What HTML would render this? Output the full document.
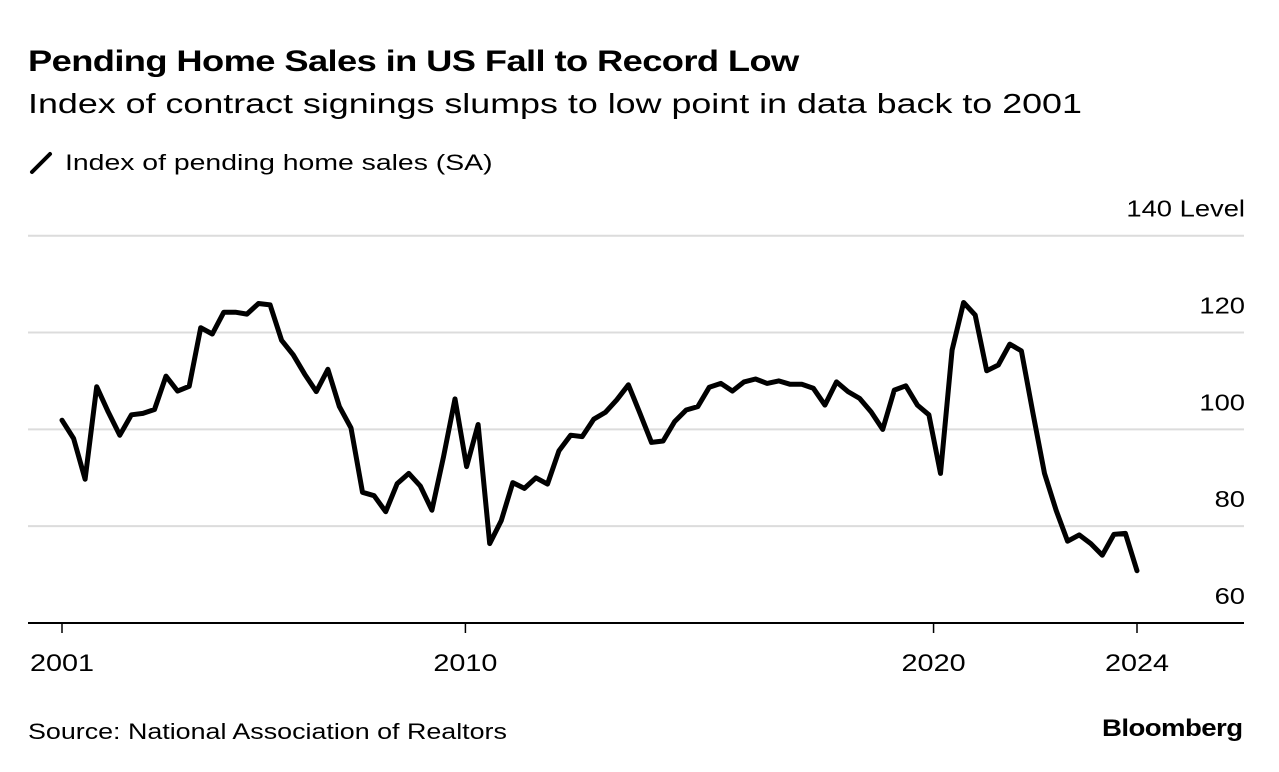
<!DOCTYPE html>
<html><head><meta charset="utf-8"><style>
body{margin:0;background:#fff;width:1279px;height:772px;overflow:hidden;font-family:"Liberation Sans",sans-serif;color:#000}
.t{position:absolute;white-space:nowrap;transform-origin:0 0}
</style></head><body>
<div class="t" style="left:28px;top:45px;font-size:30px;font-weight:bold;letter-spacing:-0.5px;transform:scaleX(1.21)">Pending Home Sales in US Fall to Record Low</div>
<div class="t" style="left:28px;top:88px;font-size:28px;transform:scaleX(1.28)">Index of contract signings slumps to low point in data back to 2001</div>
<svg width="26" height="26" style="position:absolute;left:28px;top:150px"><line x1="4" y1="22" x2="22" y2="4" stroke="#000" stroke-width="4" stroke-linecap="round"/></svg>
<div class="t" style="left:65px;top:150px;font-size:22px;transform:scaleX(1.29)">Index of pending home sales (SA)</div>
<svg id="chart" width="1279" height="772" style="position:absolute;left:0;top:0"></svg>
<div class="t" style="left:28px;top:719px;font-size:22px;transform:scaleX(1.22)">Source: National Association of Realtors</div>
<div class="t" style="left:1102px;top:715px;font-size:24px;font-weight:bold;letter-spacing:-0.5px;transform:scaleX(1.15)">Bloomberg</div>
<script>
const values=[101.9,98.1,89.7,108.8,103.6,98.8,103,103.3,104.1,111,107.9,108.9,121,119.7,124.2,124.2,123.8,126,125.7,118.4,115.4,111.4,107.8,112.4,104.7,100.3,87,86.3,83,88.8,90.9,88.3,83.3,94.3,106.3,92.3,101,76.4,
81.1,89.0,87.8,90.0,88.7,95.6,98.8,98.5,102.1,103.5,106.1,109.2,103.3,97.3,97.6,101.6,104,104.7,108.7,109.5,107.9,109.8,110.4,109.5,110,109.3,109.3,108.5,105,109.8,107.8,106.4,103.6,100,108.1,109,105,
103,90.9,116.4,126.2,123.6,112.1,113.3,117.6,116.2,103.3,90.9,83.3,76.9,78.2,76.4,74,78.3,78.5,70.8];
const xTickLabels=["2001","2010","2020","2024"];
const xTickIdx=[0,34.9,75.4,93];
const yTicks=[60,80,100,120,140];
const svg=document.getElementById('chart');
const NS='http://www.w3.org/2000/svg';
const X0=62,X1=1137,L=28,R=1244;
const x=i=>X0+(X1-X0)*i/(values.length-1);
const y=v=>623-(v-60)*(623-235.7)/80;
function mk(t,a){const e=document.createElementNS(NS,t);for(const k in a)e.setAttribute(k,a[k]);svg.appendChild(e);return e;}
yTicks.forEach(v=>{
  if(v>60){const g=mk('line',{x1:L,x2:R,y1:y(v),y2:y(v),stroke:'#dcdcdc','stroke-width':2});
  
  }
  const t=mk('text',{x:0,y:0,transform:'translate('+(R+1)+','+(y(v)-19)+') scale(1.19,1)','text-anchor':'end','font-size':23,'font-family':'Liberation Sans, sans-serif'});
  t.textContent=v===140?'140 Level':String(v);
  
  
});
const ax=mk('line',{x1:L,x2:R,y1:623,y2:623,stroke:'#000','stroke-width':2});


xTickLabels.forEach((lab,k)=>{
  const px=x(xTickIdx[k]);
  const tk=mk('line',{x1:px,x2:px,y1:623,y2:633,stroke:'#000','stroke-width':1.5});
  
  
  const t=mk('text',{x:0,y:0,transform:'translate('+px+',671) scale(1.2,1)','text-anchor':'middle','font-size':24,'font-family':'Liberation Sans, sans-serif'});
  t.textContent=lab;
  
  
});
const p=mk('path',{d:values.map((v,i)=>(i?'L':'M')+x(i).toFixed(1)+' '+y(v).toFixed(1)).join(''),fill:'none',stroke:'#000','stroke-width':5,'stroke-linejoin':'round','stroke-linecap':'round'});


</script>
</body></html>
